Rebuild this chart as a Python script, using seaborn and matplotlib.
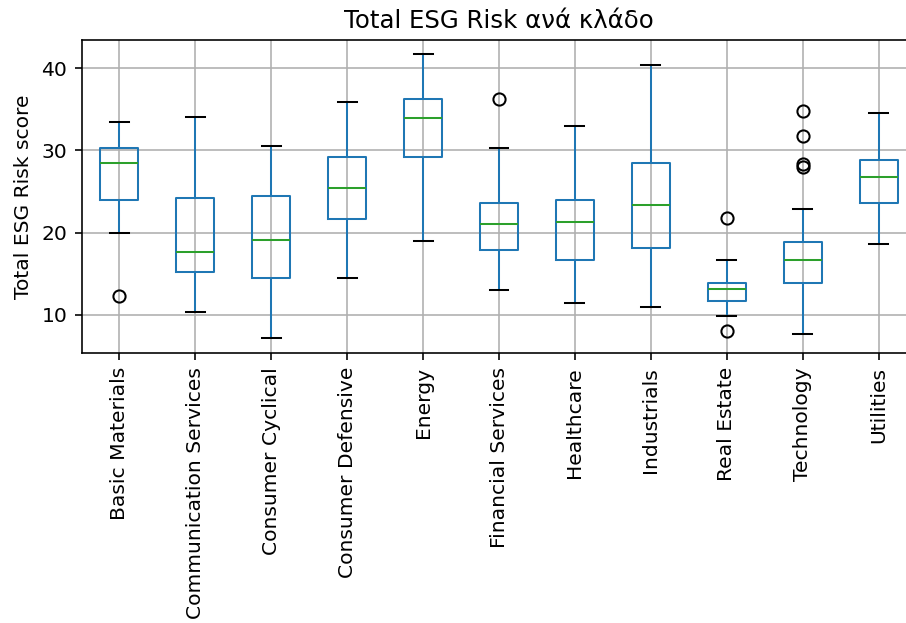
import numpy as np
import pandas as pd
import matplotlib
matplotlib.use("Agg")
import matplotlib.pyplot as plt
import seaborn as sns

sectors = ["Basic Materials", "Communication Services", "Consumer Cyclical",
           "Consumer Defensive", "Energy", "Financial Services", "Healthcare",
           "Industrials", "Real Estate", "Technology", "Utilities"]
whisker_low = [19.9, 10.3, 7.1, 14.5, 19.0, 13.0, 11.4, 10.9, 9.8, 7.65, 18.6]
q1 = [24.0, 15.2, 14.5, 21.6, 29.2, 17.9, 16.6, 18.1, 11.7, 13.9, 23.6]
median = [28.5, 17.6, 19.1, 25.4, 33.9, 21.0, 21.3, 23.3, 13.1, 16.6, 26.7]
q3 = [30.3, 24.2, 24.5, 29.2, 36.2, 23.6, 24.0, 28.5, 13.9, 18.9, 28.8]
whisker_high = [33.5, 34.1, 30.5, 35.9, 41.7, 30.3, 33.0, 40.4, 16.6, 22.9, 34.6]
outliers = [[12.3], [], [], [], [], [36.2], [], [], [7.98, 21.8],
            [27.95, 28.35, 31.7, 34.8], []]


def sample_from_stats(lo, a, m, b, hi, outs):
    """Build a small sample whose quartiles/whiskers equal the given stats."""
    low_out = sorted(v for v in outs if v < lo)
    high_out = sorted(v for v in outs if v > hi)
    k = max(len(low_out) + 1, len(high_out) + 1, 1)
    vals = low_out + [lo] + [a] * (k - 1 - len(low_out))
    vals += [a] + [a] * (k - 1)
    vals += [m] + [m] * (k - 1)
    vals += [b] + [b] * (k - 1 - len(high_out)) + [hi] + high_out
    return vals


rows = []
for s, lo, a, m, b, hi, outs in zip(sectors, whisker_low, q1, median, q3,
                                     whisker_high, outliers):
    for v in sample_from_stats(lo, a, m, b, hi, outs):
        rows.append({"Sector": s, "Total ESG Risk": v})
df = pd.DataFrame(rows)

DPI = 146
fig = plt.figure(figsize=(906 / DPI, 623 / DPI), dpi=DPI)
ax = fig.add_axes([81.5 / 906, 1 - 352.7 / 623, 835 / 906, 312.7 / 623])

sns.boxplot(data=df, x="Sector", y="Total ESG Risk", order=sectors, ax=ax,
            fill=False, color="C0", width=0.5, linewidth=1.0,
            boxprops=dict(color="C0"),
            whiskerprops=dict(color="C0"),
            medianprops=dict(color="C2"),
            capprops=dict(color="black"),
            flierprops=dict(marker="o", markerfacecolor="none",
                            markeredgecolor="black", markersize=6,
                            markeredgewidth=1.0))

ax.grid(True, color="#b0b0b0", linewidth=0.8)
ax.set_axisbelow(True)
ax.spines["right"].set_visible(False)
ax.set_xlabel("")
ax.set_ylabel("Total ESG Risk score")
ax.set_title("Total ESG Risk ανά κλάδο")
ax.tick_params(axis="x", labelrotation=90)
ax.set_yticks([10, 20, 30, 40])

fig.savefig("out.png", dpi=DPI)
